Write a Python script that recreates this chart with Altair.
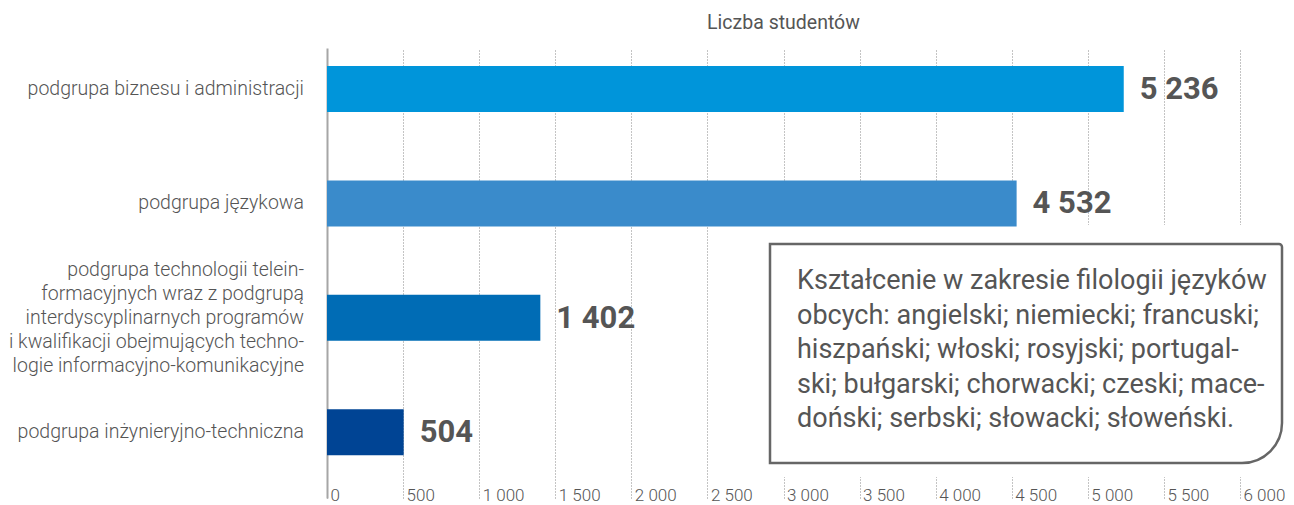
import altair as alt
import pandas as pd

categories = [
    "podgrupa biznesu i administracji",
    "podgrupa językowa",
    "podgrupa technologii telein-|formacyjnych wraz z podgrupą|interdyscyplinarnych programów|i kwalifikacji obejmujących techno-|logie informacyjno-komunikacyjne",
    "podgrupa inżynieryjno-techniczna",
]
values = [5236, 4532, 1402, 504]
colors = ["#0095DA", "#3A8BCB", "#006CB5", "#004494"]
x_ticks = list(range(0, 6001, 500))
title_text = "Liczba studentów"
box_lines = [
    "Kształcenie w zakresie filologii języków",
    "obcych: angielski; niemiecki; francuski;",
    "hiszpański; włoski; rosyjski; portugal-",
    "ski; bułgarski; chorwacki; czeski; mace-",
    "doński; serbski; słowacki; słoweński.",
]

W, H = 913, 450
P_IN, P_OUT, ALIGN = 0.598, 0.266, 0.296
STEP = H / (len(categories) - P_IN + 2 * P_OUT)
BAND = STEP * (1 - P_IN)
LINE_H = 24

df = pd.DataFrame({
    "cat": categories,
    "value": values,
    "color": colors,
    "label": [f"{v:,}".replace(",", " ") for v in values],
    "yoff": [BAND / 2 - c.count("|") * LINE_H / 2 for c in categories],
})

FONT = "Roboto"
GRAY = "#555555"

x_scale = alt.Scale(domain=[0, 6000], nice=False)
y_scale = alt.Scale(paddingInner=P_IN, paddingOuter=P_OUT, align=ALIGN)

x_axis = alt.Axis(
    values=x_ticks, title=None, orient="bottom", ticks=False, domain=False,
    grid=True, gridDash=[1, 2], gridColor="#888888", gridWidth=1,
    labelAlign="left", labelBaseline="top", labelPadding=-11, labelOffset=3,
    labelFont=FONT, labelFontSize=17, labelColor=GRAY, labelFontWeight=300,
    labelExpr="replace(format(datum.value, ','), ',', ' ')",
)
y_axis = alt.Axis(
    title=None, ticks=False, domain=True, domainColor="#A6A6A6", domainWidth=2,
    labels=False, minExtent=319, maxExtent=319,
)

base = alt.Chart(df)
box_df = pd.DataFrame({"t": ["\n".join(box_lines)]})

white = alt.Chart(box_df).mark_rect(color="white").encode(
    x=alt.value(426), x2=alt.value(957), y=alt.value(177), y2=alt.value(429),
)

bars = base.mark_bar().encode(
    x=alt.X("value:Q", scale=x_scale, axis=x_axis),
    y=alt.Y("cat:N", sort=categories, scale=y_scale, axis=y_axis),
    color=alt.Color("color:N", scale=None, legend=None),
)

ylabels = base.mark_text(
    align="right", baseline="middle", lineBreak="|", lineHeight=LINE_H,
    font=FONT, fontSize=19.5, fontWeight=300, color=GRAY,
).encode(
    x=alt.value(-23),
    y=alt.Y("cat:N", sort=categories, scale=y_scale),
    yOffset=alt.YOffset("yoff:Q", scale=None),
    text="cat:N",
)

labels = base.mark_text(
    align="left", baseline="middle", dx=16, dy=1,
    font=FONT, fontSize=31, fontWeight="bold", color=GRAY,
).encode(
    x=alt.X("value:Q", scale=x_scale),
    y=alt.Y("cat:N", sort=categories, scale=y_scale),
    text="label:N",
)

box = alt.Chart(box_df).mark_rect(
    fill="white", stroke="#666666", strokeWidth=2.5,
    cornerRadiusBottomRight=40, cornerRadiusTopRight=3,
).encode(
    x=alt.value(443), x2=alt.value(955), y=alt.value(196), y2=alt.value(415),
)
box_text = alt.Chart(box_df).mark_text(
    align="left", baseline="top", lineBreak="\n", lineHeight=34.6,
    font=FONT, fontSize=27, color=GRAY,
).encode(
    x=alt.value(470), y=alt.value(220), text="t:N",
)

chart = alt.layer(white, bars, ylabels, labels, box, box_text).properties(
    width=W, height=H,
    padding={"left": 0, "top": 4, "right": 0, "bottom": 0},
    title=alt.TitleParams(
        title_text, anchor="middle", font=FONT, fontSize=19.5, fontWeight="normal",
        color=GRAY, offset=15,
    ),
).configure_view(stroke=None)

chart.save("out.html", embed_options={"renderer": "svg", "actions": False})
